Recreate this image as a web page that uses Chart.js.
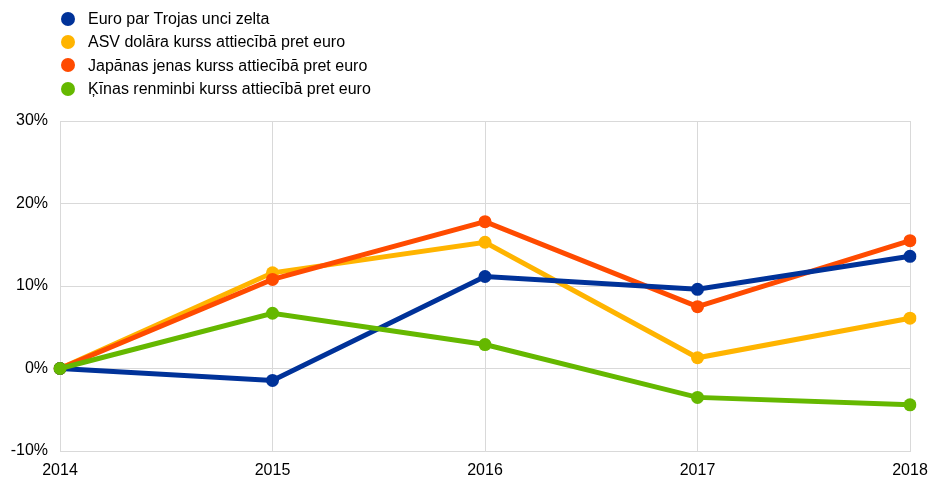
<!DOCTYPE html>
<html>
<head>
<meta charset="utf-8">
<script src="https://cdn.jsdelivr.net/npm/chart.js@4/dist/chart.umd.min.js"></script>
<style>
  body { margin: 0; background: #fff; font-family: "Liberation Sans", Arial, sans-serif; }
  #wrap { position: relative; width: 930px; height: 477px; }
  #legend { position: absolute; left: 61px; top: 7px; margin: 0; padding: 0; list-style: none; font-size: 16px; color: #000; }
  #legend li { height: 23.3px; line-height: 23.3px; display: flex; align-items: center; white-space: nowrap; }
  #legend span.dot { width: 14px; height: 14px; border-radius: 50%; margin-right: 13px; display: inline-block; }
</style>
</head>
<body>
<div id="wrap">
  <ul id="legend"></ul>
  <canvas id="chart" width="930" height="477"></canvas>
</div>
<script>
// years on the x axis
const years = ['2014', '2015', '2016', '2017', '2018'];

// % change vs 2014
const gold = [0, -1.45, 11.15, 9.6, 13.6];
const usd = [0, 11.6, 15.3, 1.3, 6.1];
const jpy = [0, 10.8, 17.8, 7.5, 15.5];
const cny = [0, 6.7, 2.9, -3.5, -4.4];

const seriesNames = [
  'Euro par Trojas unci zelta',
  'ASV dolāra kurss attiecībā pret euro',
  'Japānas jenas kurss attiecībā pret euro',
  'Ķīnas renminbi kurss attiecībā pret euro'
];
const seriesColors = ['#003299', '#FFB400', '#FF4B00', '#65B800'];
const seriesData = [gold, usd, jpy, cny];
const drawOrder = [1, 3, 2, 0]; // green ends up on top at 2014

const datasets = seriesData.map((d, i) => ({
  label: seriesNames[i],
  data: d,
  borderColor: seriesColors[i],
  backgroundColor: seriesColors[i],
  borderWidth: 5,
  pointRadius: 6.5,
  pointHoverRadius: 6.5,
  pointBorderWidth: 0,
  tension: 0,
  order: drawOrder[i]
}));

// html legend, one item per row
const legendEl = document.getElementById('legend');
seriesNames.forEach((name, i) => {
  const li = document.createElement('li');
  const dot = document.createElement('span');
  dot.className = 'dot';
  dot.style.background = seriesColors[i];
  li.appendChild(dot);
  li.appendChild(document.createTextNode(name));
  legendEl.appendChild(li);
});

Chart.defaults.font.family = '"Liberation Sans", Arial, sans-serif';
Chart.defaults.font.size = 16;
Chart.defaults.color = '#000';

new Chart(document.getElementById('chart').getContext('2d'), {
  type: 'line',
  data: { labels: years, datasets: datasets },
  options: {
    responsive: false,
    animation: false,
    layout: { padding: { top: 121, right: 20, left: 0, bottom: 0 } },
    plugins: {
      legend: { display: false },
      tooltip: { enabled: false }
    },
    scales: {
      x: {
        offset: false,
        grid: { color: '#d9d9d9', lineWidth: 1, drawTicks: false },
        border: { color: '#d9d9d9' },
        ticks: { padding: 10, maxRotation: 0 },
        afterFit: (scale) => {
          scale.height = 26;
          scale.paddingLeft = 0;
          scale.paddingRight = 0;
        }
      },
      y: {
        min: -10,
        max: 30,
        ticks: { stepSize: 10, padding: 12, callback: (v) => v + '%' },
        grid: { color: '#d9d9d9', lineWidth: 1, drawTicks: false },
        border: { color: '#d9d9d9' },
        afterFit: (scale) => { scale.width = 60; }
      }
    }
  }
});
</script>
</body>
</html>
